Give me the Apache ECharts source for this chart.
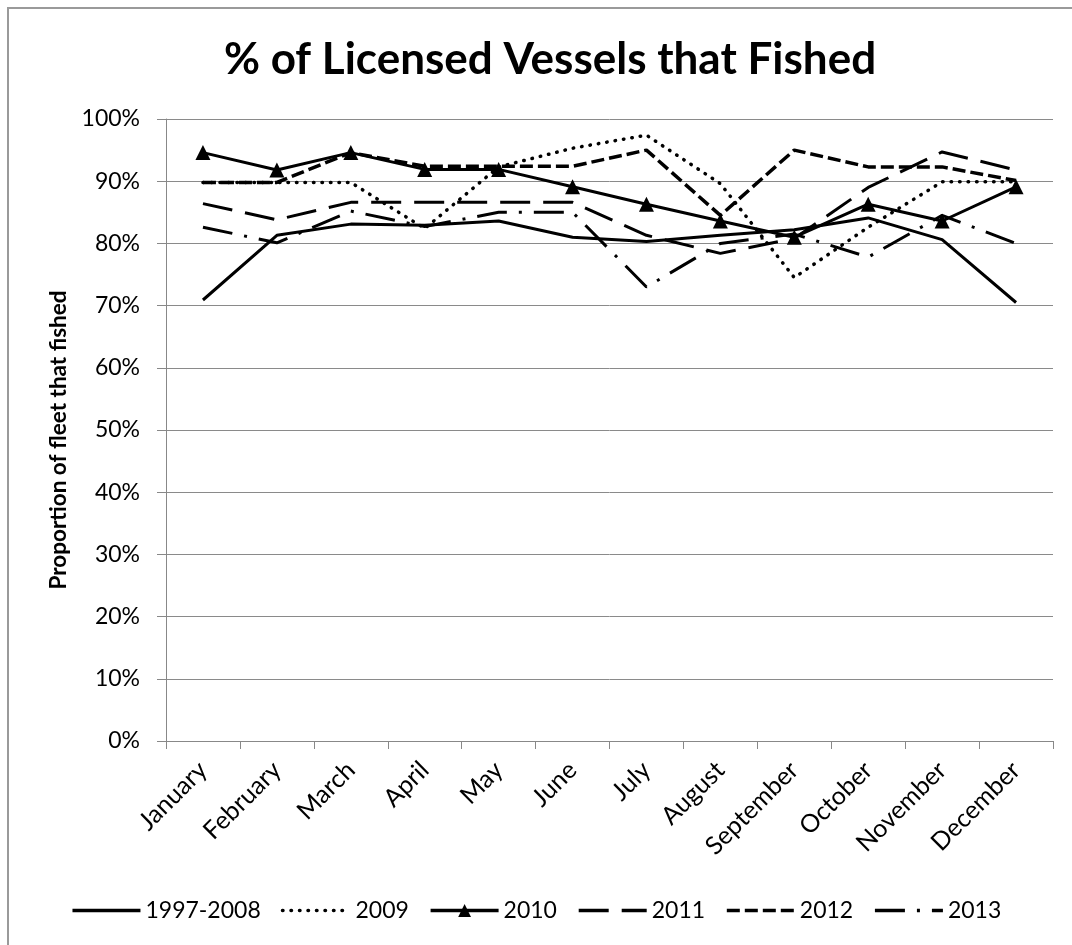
<!DOCTYPE html>
<html>
<head>
<meta charset="utf-8">
<script src="https://cdn.jsdelivr.net/npm/echarts@6/dist/echarts.min.js"></script>
<style>
html,body{margin:0;padding:0;background:#fff;}
#chart{width:1072px;height:945px;}
</style>
</head>
<body>
<div id="chart"></div>
<script>
const months = ['January','February','March','April','May','June','July','August','September','October','November','December'];
const s19972008 = [70.9, 81.3, 83.1, 82.9, 83.6, 81.0, 80.3, 81.3, 82.2, 84.1, 80.6, 70.5];
const s2009 = [89.8, 89.8, 89.8, 82.4, 92.3, 95.3, 97.4, 89.6, 74.5, 82.6, 89.9, 89.9];
const s2010 = [94.6, 91.8, 94.6, 91.9, 91.9, 89.1, 86.3, 83.6, 81.0, 86.3, 83.6, 89.1];
const s2011 = [86.4, 83.8, 86.6, 86.6, 86.6, 86.6, 81.3, 78.4, 80.8, 89.0, 94.7, 91.8];
const s2012 = [89.8, 89.8, 94.6, 92.4, 92.4, 92.4, 95.0, 84.5, 95.0, 92.3, 92.3, 90.1];
const s2013 = [82.6, 80.1, 85.2, 82.7, 85.0, 85.0, 73.0, 80.0, 81.5, 77.8, 84.5, 80.0];
const seriesNames = ['1997-2008','2009','2010','2011','2012','2013'];
const yTicks = {min: 0, max: 100, interval: 10};

const FONT = 'Lato';
const chart = echarts.init(document.getElementById('chart'), null, {renderer: 'canvas'});

function lineSeries(name, data, style, extra) {
  return Object.assign({
    name: name,
    type: 'line',
    data: data,
    symbol: 'none',
    animation: false,
    lineStyle: Object.assign({color: '#000', width: 3}, style),
    itemStyle: {color: '#000'},
    emphasis: {disabled: true}
  }, extra || {});
}

chart.setOption({
  backgroundColor: '#fff',
  animation: false,
  title: {
    text: '% of Licensed Vessels that Fished',
    left: 545, top: 33, textAlign: 'center',
    textStyle: {fontFamily: FONT, fontWeight: 'bold', fontSize: 44, color: '#000'}
  },
  graphic: [{
    type: 'polyline', silent: true,
    shape: {points: [[8, 945], [8, 8], [1072, 8]]},
    style: {fill: 'none', stroke: '#9a9a9a', lineWidth: 2}
  }],
  legend: {
    data: seriesNames.map(n => n === '2010' ? {name: n} : {name: n, itemStyle: {opacity: 0}}),
    top: 894, left: 'center',
    itemWidth: 68, itemHeight: 16, itemGap: 20,
    lineStyle: {width: 3.5},
    textStyle: {fontFamily: FONT, fontSize: 23, color: '#000'}
  },
  grid: {left: 166, right: 19, top: 119, bottom: 204, containLabel: false},
  xAxis: {
    type: 'category',
    data: months,
    boundaryGap: true,
    axisLine: {lineStyle: {color: '#888', width: 1}},
    axisTick: {show: true, length: 8, lineStyle: {color: '#888'}},
    axisLabel: {rotate: 45, fontFamily: FONT, fontSize: 25, color: '#000', margin: 25, interval: 0}
  },
  yAxis: {
    type: 'value',
    min: yTicks.min, max: yTicks.max, interval: yTicks.interval,
    name: 'Proportion of fleet that fished',
    nameLocation: 'middle', nameGap: 96, nameRotate: 90,
    nameTextStyle: {fontFamily: FONT, fontWeight: 'bold', fontSize: 22.5, color: '#000', padding: [0, 20, 0, 0]},
    axisLine: {show: true, lineStyle: {color: '#888', width: 1}},
    axisTick: {show: true, length: 9, lineStyle: {color: '#888'}},
    splitLine: {show: true, lineStyle: {color: '#8a8a8a', width: 1}},
    axisLabel: {formatter: '{value}%', fontFamily: FONT, fontSize: 23, color: '#000', margin: 26}
  },
  series: [
    lineSeries('1997-2008', s19972008, {type: 'solid'}),
    lineSeries('2009', s2009, {type: [0.5, 8], cap: 'round', width: 3.5}),
    lineSeries('2010', s2010, {type: 'solid'}, {symbol: 'triangle', symbolSize: 15, showSymbol: true}),
    lineSeries('2011', s2011, {type: [30, 13]}),
    lineSeries('2012', s2012, {type: [13, 5], width: 3.5}),
    lineSeries('2013', s2013, {type: [30, 12, 3, 12]})
  ]
});
</script>
</body>
</html>
